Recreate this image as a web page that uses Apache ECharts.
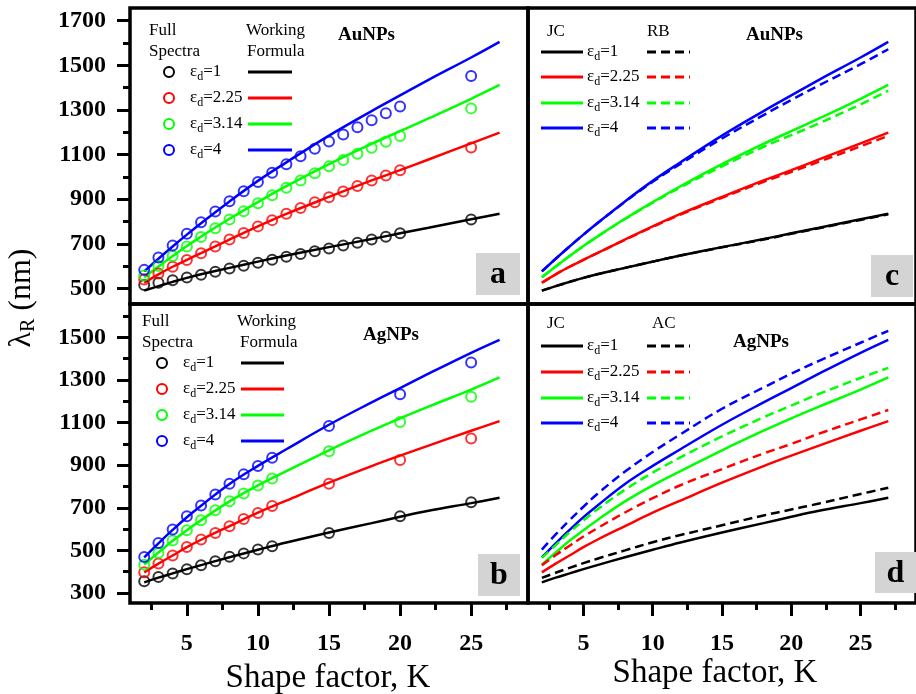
<!DOCTYPE html>
<html><head><meta charset="utf-8">
<script src="https://cdn.jsdelivr.net/npm/echarts@6/dist/echarts.min.js"></script>
<style>html,body{margin:0;padding:0;background:#fff}#c{width:916px;height:694px}</style>
</head><body><div id="c"></div>
<script>
// ---------- DATA ----------
const EPS_LABELS = ['1', '2.25', '3.14', '4'];
const COLORS = ['#000000', '#ff0000', '#00ff00', '#0000ff'];
const X_MAJOR = [5, 10, 15, 20, 25];
const X_MINOR = [2.5, 7.5, 12.5, 17.5, 22.5, 27.5];
const Y_TOP_MAJOR = [500, 700, 900, 1100, 1300, 1500, 1700];
const Y_TOP_MINOR = [600, 800, 1000, 1200, 1400, 1600];
const Y_BOT_MAJOR = [300, 500, 700, 900, 1100, 1300, 1500];
const Y_BOT_MINOR = [400, 600, 800, 1000, 1200, 1400, 1600];

// Au, full spectra (circles)
const K_AU_FS = [2,3,4,5,6,7,8,9,10,11,12,13,14,15,16,17,18,19,20,25];
const auFs1   = [515,525,537,549,561,575,589,602,615,628,642,654,666,679,692,705,719,732,747,809];
const auFs225 = [540,567,597,627,657,688,719,748,778,806,835,860,886,909,934,959,984,1006,1030,1132];
const auFs314 = [558,600,645,688,730,770,809,846,882,917,951,984,1016,1047,1076,1104,1131,1157,1183,1307];
const auFs4   = [583,638,692,745,796,845,891,935,977,1018,1056,1092,1126,1158,1190,1222,1254,1285,1315,1452];

// curves (working formula / JC / RB / AC)
const K_LINE = [2,3,4,5,6,8,10,12,15,18,20,22,25,27];
const auJC1   = [490,510,529,547,563,592,620,647,685,721,747,772,810,835];
const auJC225 = [525,563,597,628,658,719,778,834,910,984,1030,1078,1150,1198];
const auJC314 = [550,598,645,690,732,812,887,958,1057,1148,1205,1262,1350,1412];
const auJC4   = [576,633,688,741,792,890,982,1065,1185,1295,1365,1435,1535,1605];
const auRB1   = [490,510,529,547,563,592,620,647,684,719,745,770,807,832];
const auRB225 = [525,563,597,628,658,718,776,831,906,978,1022,1068,1137,1184];
const auRB314 = [550,598,645,690,732,811,884,953,1047,1135,1187,1240,1325,1386];
const auRB4   = [576,633,688,741,792,888,978,1058,1172,1277,1345,1410,1505,1572];

// Ag, full spectra (circles)
const K_AG_FS = [2,3,4,5,6,7,8,9,10,11,15,20,25];
const agFs1   = [355,375,391,412,430,449,470,486,504,519,582,660,726];
const agFs225 = [397,438,476,516,551,582,613,647,676,708,813,924,1025];
const agFs314 = [433,488,546,595,642,689,731,767,805,838,966,1103,1222];
const agFs4   = [469,535,598,660,711,763,813,857,896,935,1084,1233,1382];

const agJC1   = [350,372,392,412,431,468,503,537,584,628,658,686,722,747];
const agJC225 = [397,438,476,515,550,614,677,734,818,896,945,992,1062,1107];
const agJC314 = [433,490,545,595,642,730,805,872,970,1062,1120,1175,1255,1312];
const agJC4   = [467,533,596,656,710,812,897,975,1090,1195,1262,1330,1428,1489];
const agAC1   = [371,395,418,440,461,500,538,572,618,664,692,720,765,794];
const agAC225 = [430,478,522,565,604,678,745,806,882,955,1000,1048,1115,1159];
const agAC314 = [465,525,585,640,692,785,865,937,1035,1125,1180,1235,1310,1357];
const agAC4   = [504,575,642,705,765,870,962,1045,1165,1265,1330,1390,1475,1531];

// ---------- BUILD ----------
const FONT = 'Liberation Serif';
const pts = (xs, ys) => xs.map((x, i) => [x, ys[i]]);
const plain = v => String(v);

function tickAxis(base, show, values, len, margin) {
  if (!show) {
    base.axisTick = {show: false};
    base.axisLabel = {show: false};
    return base;
  }
  base.axisTick = {show: true, customValues: values, length: len, lineStyle: {color: '#000', width: 3}};
  if (len > 10) {
    base.axisLabel = {show: true, customValues: values, margin: margin, color: '#000', formatter: plain,
      fontFamily: FONT, fontWeight: 'bold', fontSize: 24};
  } else {
    base.axisLabel = {show: false};
  }
  return base;
}
function xAxisDef(gi, show, values, len) {
  return tickAxis({type: 'value', gridIndex: gi, position: 'bottom', min: 1, max: 29,
    axisLine: {show: false}, splitLine: {show: false}}, show, values, len, 29);
}
function yAxisDef(gi, min, max, show, values, len) {
  return tickAxis({type: 'value', gridIndex: gi, position: 'left', min: min, max: max,
    axisLine: {show: false}, splitLine: {show: false}}, show, values, len, 24);
}

const grids = [
  {left: 130, top: 8, width: 398, height: 296},
  {left: 130, top: 304, width: 398, height: 299},
  {left: 528, top: 8, width: 398, height: 296},
  {left: 528, top: 304, width: 398, height: 299}
].map(g => Object.assign(g, {show: true, borderColor: '#000', borderWidth: 3.5, containLabel: false}));

const xAxes = [
  xAxisDef(0, false, X_MAJOR, 13),
  xAxisDef(1, true, X_MAJOR, 13),
  xAxisDef(2, false, X_MAJOR, 13),
  xAxisDef(3, true, X_MAJOR, 13),
  xAxisDef(1, true, X_MINOR, 7),
  xAxisDef(3, true, X_MINOR, 7)
];
const yAxes = [
  yAxisDef(0, 430, 1757, true, Y_TOP_MAJOR, 13),
  yAxisDef(1, 253, 1657, true, Y_BOT_MAJOR, 13),
  yAxisDef(2, 430, 1757, false, Y_TOP_MAJOR, 13),
  yAxisDef(3, 253, 1657, false, Y_BOT_MAJOR, 13),
  yAxisDef(0, 430, 1757, true, Y_TOP_MINOR, 7),
  yAxisDef(1, 253, 1657, true, Y_BOT_MINOR, 7)
];

const series = [];
function addLine(ax, xs, ys, color, dashed) {
  series.push({type: 'line', xAxisIndex: ax, yAxisIndex: ax, data: pts(xs, ys),
    smooth: 0.4, symbol: 'none', z: 3,
    lineStyle: {color: color, width: 2.5, type: dashed ? [9, 5] : 'solid'}});
}
function addScatter(ax, xs, ys, color) {
  series.push({type: 'scatter', xAxisIndex: ax, yAxisIndex: ax, data: pts(xs, ys),
    symbol: 'circle', symbolSize: 10, z: 4,
    itemStyle: {color: 'rgba(0,0,0,0)', borderColor: color, borderWidth: 2}});
}
[auFs1, auFs225, auFs314, auFs4].forEach((d, i) => addScatter(0, K_AU_FS, d, COLORS[i]));
[auJC1, auJC225, auJC314, auJC4].forEach((d, i) => addLine(0, K_LINE, d, COLORS[i], false));
[agFs1, agFs225, agFs314, agFs4].forEach((d, i) => addScatter(1, K_AG_FS, d, COLORS[i]));
[agJC1, agJC225, agJC314, agJC4].forEach((d, i) => addLine(1, K_LINE, d, COLORS[i], false));
[auJC1, auJC225, auJC314, auJC4].forEach((d, i) => addLine(2, K_LINE, d, COLORS[i], false));
[auRB1, auRB225, auRB314, auRB4].forEach((d, i) => addLine(2, K_LINE, d, COLORS[i], true));
[agJC1, agJC225, agJC314, agJC4].forEach((d, i) => addLine(3, K_LINE, d, COLORS[i], false));
[agAC1, agAC225, agAC314, agAC4].forEach((d, i) => addLine(3, K_LINE, d, COLORS[i], true));

// ---------- GRAPHIC (legends, labels) ----------
const G = [];
function txt(x, y, text, size, bold, align) {
  G.push({type: 'text', x: x, y: y, z: 100, style: {text: text, fontFamily: FONT, fontSize: size,
    fontWeight: bold ? 'bold' : 'normal', fill: '#000', align: align || 'left', verticalAlign: 'middle'}});
}
function eps(x, y, val) {
  G.push({type: 'text', x: x, y: y, z: 100, style: {text: 'ε{s|d}=' + val, fontFamily: FONT, fontSize: 17,
    fill: '#000', verticalAlign: 'middle',
    rich: {s: {fontFamily: FONT, fontSize: 12, fill: '#000', padding: [9, 0, 0, 0]}}}});
}
function seg(x1, x2, y, color, dashed) {
  G.push({type: 'line', z: 100, shape: {x1: x1, y1: y, x2: x2, y2: y},
    style: {stroke: color, lineWidth: 3, lineDash: dashed ? [9, 5] : null}});
}
function ring(x, y, color) {
  G.push({type: 'circle', z: 100, shape: {cx: x, cy: y, r: 5}, style: {fill: 'none', stroke: color, lineWidth: 2}});
}
function box(x, y, w, h, letter) {
  G.push({type: 'rect', z: 90, shape: {x: x, y: y, width: w, height: h}, style: {fill: '#d4d4d4'}});
  G.push({type: 'text', z: 100, x: x + w / 2, y: y + h / 2 + 1, style: {text: letter, fontFamily: FONT,
    fontSize: 32, fontWeight: 'bold', fill: '#000', align: 'center', verticalAlign: 'middle'}});
}

// panel a
txt(149, 31, 'Full', 17); txt(149, 52, 'Spectra', 17);
txt(246, 31, 'Working', 17); txt(247, 52, 'Formula', 17);
txt(338, 35, 'AuNPs', 19, true);
[72, 98, 124, 150].forEach((y, i) => { ring(169, y, COLORS[i]); eps(190, y, EPS_LABELS[i]); seg(248, 292, y, COLORS[i], false); });
// panel b
txt(142, 322, 'Full', 17); txt(142, 343, 'Spectra', 17);
txt(237, 322, 'Working', 17); txt(240, 343, 'Formula', 17);
txt(363, 335, 'AgNPs', 19, true);
[363, 389, 415, 441].forEach((y, i) => { ring(162, y, COLORS[i]); eps(183, y, EPS_LABELS[i]); seg(241, 284, y, COLORS[i], false); });
// panel c
txt(547, 32, 'JC', 17); txt(647, 32, 'RB', 17);
txt(746, 35, 'AuNPs', 19, true);
[52, 77, 103, 128].forEach((y, i) => { seg(541, 583, y, COLORS[i], false); eps(587, y, EPS_LABELS[i]); seg(647, 690, y, COLORS[i], true); });
// panel d
txt(547, 324, 'JC', 17); txt(652, 324, 'AC', 17);
txt(733, 342, 'AgNPs', 19, true);
[346, 372, 398, 423].forEach((y, i) => { seg(541, 583, y, COLORS[i], false); eps(587, y, EPS_LABELS[i]); seg(647, 690, y, COLORS[i], true); });

box(476, 253, 44, 42, 'a');
box(478, 554, 42, 42, 'b');
box(871, 255, 42, 42, 'c');
box(875, 552, 41, 41, 'd');

txt(328, 678, 'Shape factor, K', 33, false, 'center');
txt(715, 673, 'Shape factor, K', 33, false, 'center');
G.push({type: 'text', x: 22, y: 298, rotation: Math.PI / 2, z: 100, style: {
  text: 'λ{s|R} (nm)', fontFamily: FONT, fontSize: 32, fill: '#000', align: 'center', verticalAlign: 'middle',
  rich: {s: {fontFamily: FONT, fontSize: 20, fill: '#000', padding: [14, 0, 0, 0]}}}});

const chart = echarts.init(document.getElementById('c'), null, {renderer: 'canvas'});
chart.setOption({
  animation: false,
  backgroundColor: '#ffffff',
  grid: grids,
  xAxis: xAxes,
  yAxis: yAxes,
  series: series,
  graphic: G
});
</script>
</body></html>
